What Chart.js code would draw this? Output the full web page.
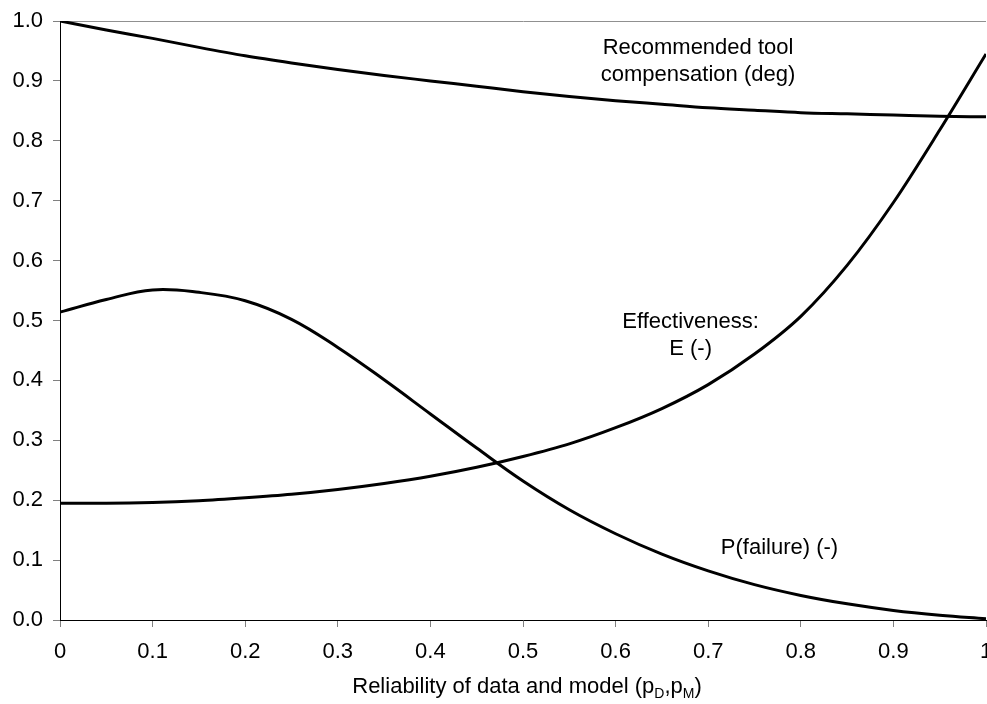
<!DOCTYPE html>
<html>
<head>
<meta charset="utf-8">
<script src="https://cdn.jsdelivr.net/npm/chart.js@4.4.1/dist/chart.umd.min.js"></script>
<style>
    html, body { margin: 0; padding: 0; background: #ffffff; }
    #wrap { width: 987px; height: 704px; position: relative; }
</style>
</head>
<body>
<div id="wrap"><canvas id="chart" width="987" height="704"></canvas></div>
<script>
// Reliability of data and model (x) and the three curves
const reliability = [0, 0.05, 0.1, 0.15, 0.2, 0.25, 0.3, 0.35, 0.4, 0.45, 0.5,
    0.55, 0.6, 0.65, 0.7, 0.75, 0.8, 0.85, 0.9, 0.95, 1.0];
const toolCompensation = [1.0, 0.985, 0.971, 0.956, 0.942, 0.930, 0.919, 0.909, 0.900, 0.891, 0.882,
    0.874, 0.867, 0.861, 0.855, 0.851, 0.847, 0.845, 0.843, 0.841, 0.840];
const effectiveness = [0.195, 0.195, 0.196, 0.199, 0.204, 0.210, 0.218, 0.228, 0.240, 0.255, 0.273,
    0.294, 0.321, 0.353, 0.393, 0.444, 0.507, 0.592, 0.697, 0.818, 0.945];
const pFailure = [0.514, 0.535, 0.551, 0.547, 0.533, 0.502, 0.455, 0.401, 0.344, 0.287, 0.232,
    0.184, 0.144, 0.110, 0.082, 0.059, 0.041, 0.027, 0.016, 0.008, 0.002];

const xTickLabels = ['0', '0.1', '0.2', '0.3', '0.4', '0.5', '0.6', '0.7', '0.8', '0.9', '1'];
const yTickLabels = ['0.0', '0.1', '0.2', '0.3', '0.4', '0.5', '0.6', '0.7', '0.8', '0.9', '1.0'];

// Curve labels placed in data coordinates
const curveLabels = [
    { lines: ['Recommended tool', 'compensation (deg)'], x: 0.689, y: 0.945 },
    { lines: ['Effectiveness:', 'E (-)'], x: 0.681, y: 0.488 },
    { lines: ['P(failure) (-)'], x: 0.777, y: 0.111 }
];

const FONT = '"Liberation Sans", Arial, sans-serif';
const FONT_SIZE = 22;

function toPoints(values) {
    return values.map((v, i) => ({ x: reliability[i], y: v }));
}

// Draws curve labels and the axis title (with subscripts)
const textPlugin = {
    id: 'textPlugin',
    afterDraw(chart) {
        const ctx = chart.ctx;
        const xs = chart.scales.x;
        const ys = chart.scales.y;
        ctx.save();
        ctx.fillStyle = '#000000';
        ctx.textAlign = 'center';
        ctx.textBaseline = 'alphabetic';
        ctx.font = FONT_SIZE + 'px ' + FONT;
        curveLabels.forEach(lbl => {
            const cx = xs.getPixelForValue(lbl.x);
            const cy = ys.getPixelForValue(lbl.y);
            lbl.lines.forEach((line, i) => {
                ctx.fillText(line, cx, cy + i * 27);
            });
        });

        // x axis title: Reliability of data and model (pD,pM)
        const parts = [
            { t: 'Reliability of data and model (p', sub: false },
            { t: 'D', sub: true },
            { t: ',p', sub: false },
            { t: 'M', sub: true },
            { t: ')', sub: false }
        ];
        const mainFont = FONT_SIZE + 'px ' + FONT;
        const subFont = Math.round(FONT_SIZE * 0.65) + 'px ' + FONT;
        let total = 0;
        parts.forEach(p => {
            ctx.font = p.sub ? subFont : mainFont;
            p.w = ctx.measureText(p.t).width;
            total += p.w;
        });
        let x = (chart.chartArea.left + chart.chartArea.right) / 2 - total / 2 + 4;
        const base = 693;
        ctx.textAlign = 'left';
        parts.forEach(p => {
            ctx.font = p.sub ? subFont : mainFont;
            ctx.fillText(p.t, x, p.sub ? base + 5 : base);
            x += p.w;
        });
        ctx.restore();
    }
};

const lineStyle = {
    borderColor: '#000000',
    borderWidth: 3,
    pointRadius: 0,
    fill: false,
    cubicInterpolationMode: 'monotone'
};

new Chart(document.getElementById('chart'), {
    type: 'line',
    data: {
        datasets: [
            Object.assign({ label: 'Recommended tool compensation (deg)', data: toPoints(toolCompensation) }, lineStyle),
            Object.assign({ label: 'Effectiveness: E (-)', data: toPoints(effectiveness) }, lineStyle),
            // P(failure) has a rounded peak, so it uses plain bezier smoothing
            Object.assign({ label: 'P(failure) (-)', data: toPoints(pFailure) }, lineStyle,
                { cubicInterpolationMode: 'default', tension: 0.4 })
        ]
    },
    options: {
        responsive: false,
        animation: false,
        layout: {
            padding: { top: 21, right: 1, left: 0, bottom: 0 }
        },
        plugins: {
            legend: { display: false },
            tooltip: { enabled: false }
        },
        scales: {
            x: {
                type: 'linear',
                min: 0,
                max: 1,
                afterFit(scale) {
                    scale.height = 84;
                    scale.paddingLeft = 0;
                    scale.paddingRight = 0;
                },
                afterBuildTicks(scale) {
                    scale.ticks = xTickLabels.map((_, i) => ({ value: i / 10 }));
                },
                ticks: {
                    color: '#000000',
                    padding: 12,
                    maxRotation: 0,
                    autoSkip: false,
                    font: { family: FONT, size: FONT_SIZE },
                    callback: (value, index) => xTickLabels[index]
                },
                grid: {
                    drawOnChartArea: false,
                    tickLength: 7,
                    tickColor: '#808080'
                },
                border: { display: true, color: '#000000', width: 1 }
            },
            y: {
                type: 'linear',
                min: 0,
                max: 1,
                afterFit(scale) {
                    scale.width = 60;
                    scale.paddingTop = 0;
                    scale.paddingBottom = 0;
                },
                afterBuildTicks(scale) {
                    scale.ticks = yTickLabels.map((_, i) => ({ value: i / 10 }));
                },
                ticks: {
                    color: '#000000',
                    padding: 10,
                    autoSkip: false,
                    font: { family: FONT, size: FONT_SIZE },
                    callback: (value, index) => yTickLabels[index]
                },
                grid: {
                    drawOnChartArea: true,
                    tickLength: 7,
                    tickColor: '#808080',
                    color: ctx => (ctx.tick && ctx.tick.value === 1 ? '#909090' : 'rgba(0,0,0,0)')
                },
                border: { display: true, color: '#000000', width: 1 }
            }
        }
    },
    plugins: [textPlugin]
});
</script>
</body>
</html>
